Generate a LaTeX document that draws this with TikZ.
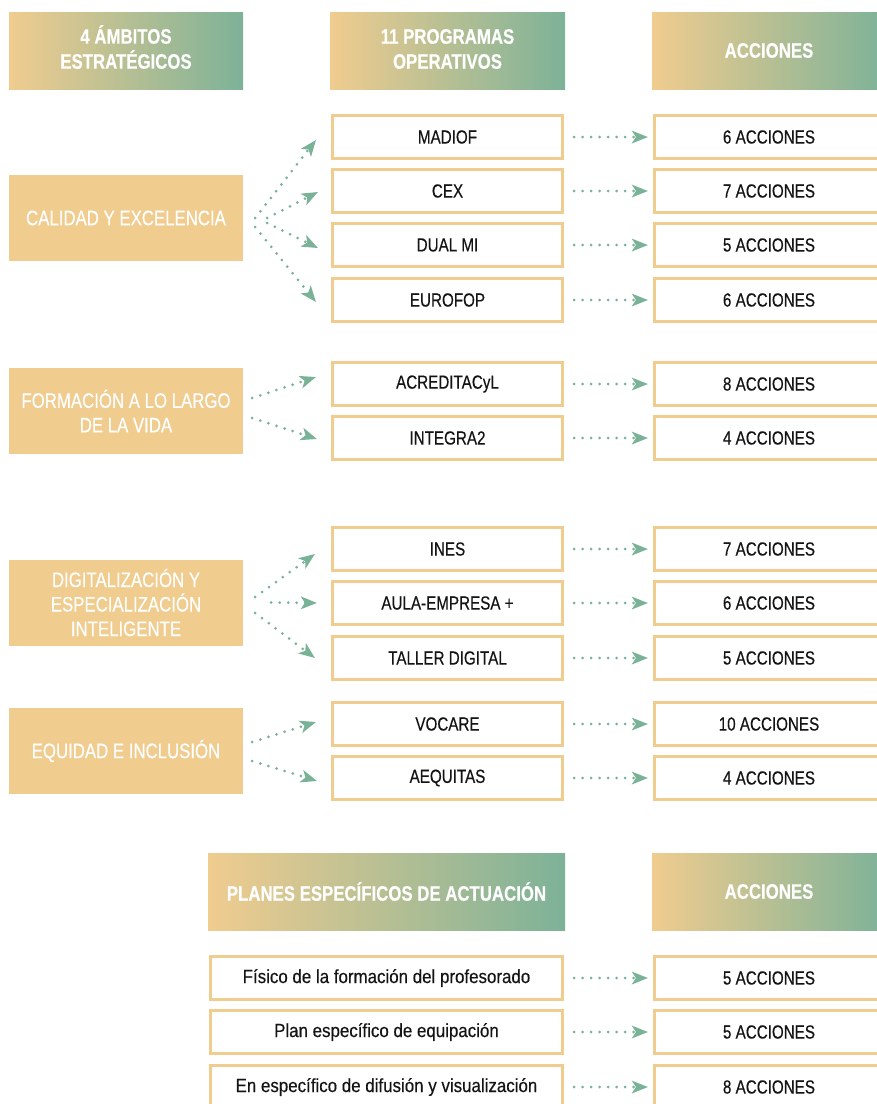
\documentclass[tikz,border=0pt]{standalone}
\usepackage{fontspec}
\setmainfont[FakeStretch=0.8,FakeBold=0.35]{Liberation Sans}
\newfontfamily\planfont[FakeStretch=0.89,FakeBold=0.35]{Liberation Sans}
\usetikzlibrary{arrows.meta}
\definecolor{tan}{RGB}{240,204,143}
\definecolor{sage}{RGB}{125,178,152}
\definecolor{arrowc}{RGB}{122,178,152}
\definecolor{txt}{RGB}{20,20,20}
\tikzset{
  hdr/.style={left color=tan, right color=sage, draw=none, text=white, align=center,
    font=\fontsize{21}{25}\selectfont\bfseries, inner sep=0pt, minimum height=77pt},
  hdrtext/.style={text=white, align=center, font=\fontsize{21}{25}\selectfont\bfseries, inner sep=0pt},
  amb/.style={fill=tan, draw=none, text=white, align=center, minimum width=234pt,
    minimum height=86pt, inner sep=0pt, font=\fontsize{21}{24.5}\selectfont},
  prog/.style={draw=tan, line width=2.6pt, fill=white, text=txt, minimum width=230.5pt,
    minimum height=43.5pt, inner sep=0pt, font=\fontsize{19}{22}\selectfont},
  plan/.style={prog, minimum width=352.5pt, font=\fontsize{19}{22}\planfont},
  acc/.style={prog, minimum width=229.5pt},
  arr/.style={draw=arrowc, line width=3pt, line cap=round, dash pattern=on 0pt off 8.5pt,
    -{Stealth[length=16pt,width=12.5pt,inset=4pt,fill=arrowc]}},
}
\begin{document}
\begin{tikzpicture}[x=1pt,y=-1pt]
\useasboundingbox (0,0) rectangle (877,1104);
% headers
\node[hdr, minimum width=234pt] (h1) at (126,50.5) {};
\node[hdrtext] (h1t) at ([yshift=3.5pt]h1.center) {4 ÁMBITOS\\ESTRATÉGICOS};
\node[hdr, minimum width=235pt] (h2) at (447.5,50.5) {};
\node[hdrtext] (h2t) at ([yshift=1.5pt]h2.center) {11 PROGRAMAS\\OPERATIVOS};
\node[hdr, minimum width=234pt] (h3) at (769,50.5) {ACCIONES};
% ambitos
\node[amb] (cal) at (126,218) {CALIDAD Y EXCELENCIA};
\node[amb] (form) at (126,411) {FORMACIÓN A LO LARGO\\DE LA VIDA};
\node[amb] (dig) at (126,602.5) {DIGITALIZACIÓN Y\\ESPECIALIZACIÓN\\INTELIGENTE};
\node[amb] (eq) at (126,751) {EQUIDAD E INCLUSIÓN};
% programas
\node[prog] (p1) at (447.5,137) {MADIOF};
\node[prog] (p2) at (447.5,191) {CEX};
\node[prog] (p3) at (447.5,245) {DUAL MI};
\node[prog] (p4) at (447.5,300) {EUROFOP};
\node[prog] (p5) at (447.5,384) {ACREDITACyL};
\node[prog] (p6) at (447.5,438) {INTEGRA2};
\node[prog] (p7) at (447.5,549) {INES};
\node[prog] (p8) at (447.5,603) {AULA-EMPRESA +};
\node[prog] (p9) at (447.5,658) {TALLER DIGITAL};
\node[prog] (p10) at (447.5,724) {VOCARE};
\node[prog] (p11) at (447.5,778) {AEQUITAS};
% acciones
\node[acc] (a1) at (769,137) {6 ACCIONES};
\node[acc] (a2) at (769,191) {7 ACCIONES};
\node[acc] (a3) at (769,245) {5 ACCIONES};
\node[acc] (a4) at (769,300) {6 ACCIONES};
\node[acc] (a5) at (769,384) {8 ACCIONES};
\node[acc] (a6) at (769,438) {4 ACCIONES};
\node[acc] (a7) at (769,549) {7 ACCIONES};
\node[acc] (a8) at (769,603) {6 ACCIONES};
\node[acc] (a9) at (769,658) {5 ACCIONES};
\node[acc] (a10) at (769,724) {10 ACCIONES};
\node[acc] (a11) at (769,778) {4 ACCIONES};
% bottom
\node[hdr, minimum width=357pt] (h4) at (386.5,891.5) {PLANES ESPECÍFICOS DE ACTUACIÓN};
\node[hdr, minimum width=234pt] (h5) at (769,891.5) {ACCIONES};
\node[plan] (q1) at (386.5,978) {Físico de la formación del profesorado};
\node[plan] (q2) at (386.5,1032) {Plan específico de equipación};
\node[plan] (q3) at (386.5,1087) {En específico de difusión y visualización};
\node[acc] (b1) at (769,978) {5 ACCIONES};
\node[acc] (b2) at (769,1032) {5 ACCIONES};
\node[acc] (b3) at (769,1087) {8 ACCIONES};
% fan arrows
\draw[arr] ([shift={(12,0)}]cal.east) -- ([shift={(-15,3)}]p1.west);
\draw[arr] ([shift={(24,0)}]cal.east) -- ([shift={(-13,1)}]p2.west);
\draw[arr] ([shift={(24,5)}]cal.east) -- ([shift={(-13,3)}]p3.west);
\draw[arr] ([shift={(12,9)}]cal.east) -- ([shift={(-15,2)}]p4.west);
\draw[arr] ([shift={(9,-13)}]form.east) -- ([shift={(-15,-7)}]p5.west);
\draw[arr] ([shift={(9,7)}]form.east) -- ([shift={(-14,1)}]p6.west);
\draw[arr] ([shift={(12,-5.5)}]dig.east) -- ([shift={(-16,5)}]p7.west);
\draw[arr] ([shift={(28,0)}]dig.east) -- ([shift={(-14,0)}]p8.west);
\draw[arr] ([shift={(12,10.5)}]dig.east) -- ([shift={(-16,0)}]p9.west);
\draw[arr] ([shift={(9,-9)}]eq.east) -- ([shift={(-15,-2)}]p10.west);
\draw[arr] ([shift={(9,10)}]eq.east) -- ([shift={(-14,3)}]p11.west);
% horizontal arrows
\foreach \i in {1,...,11}{
  \draw[arr] ([xshift=10pt]p\i.east) -- ([xshift=-5pt]a\i.west);
}
\foreach \i in {1,2,3}{
  \draw[arr] ([xshift=10pt]q\i.east) -- ([xshift=-5pt]b\i.west);
}
\end{tikzpicture}
\end{document}
